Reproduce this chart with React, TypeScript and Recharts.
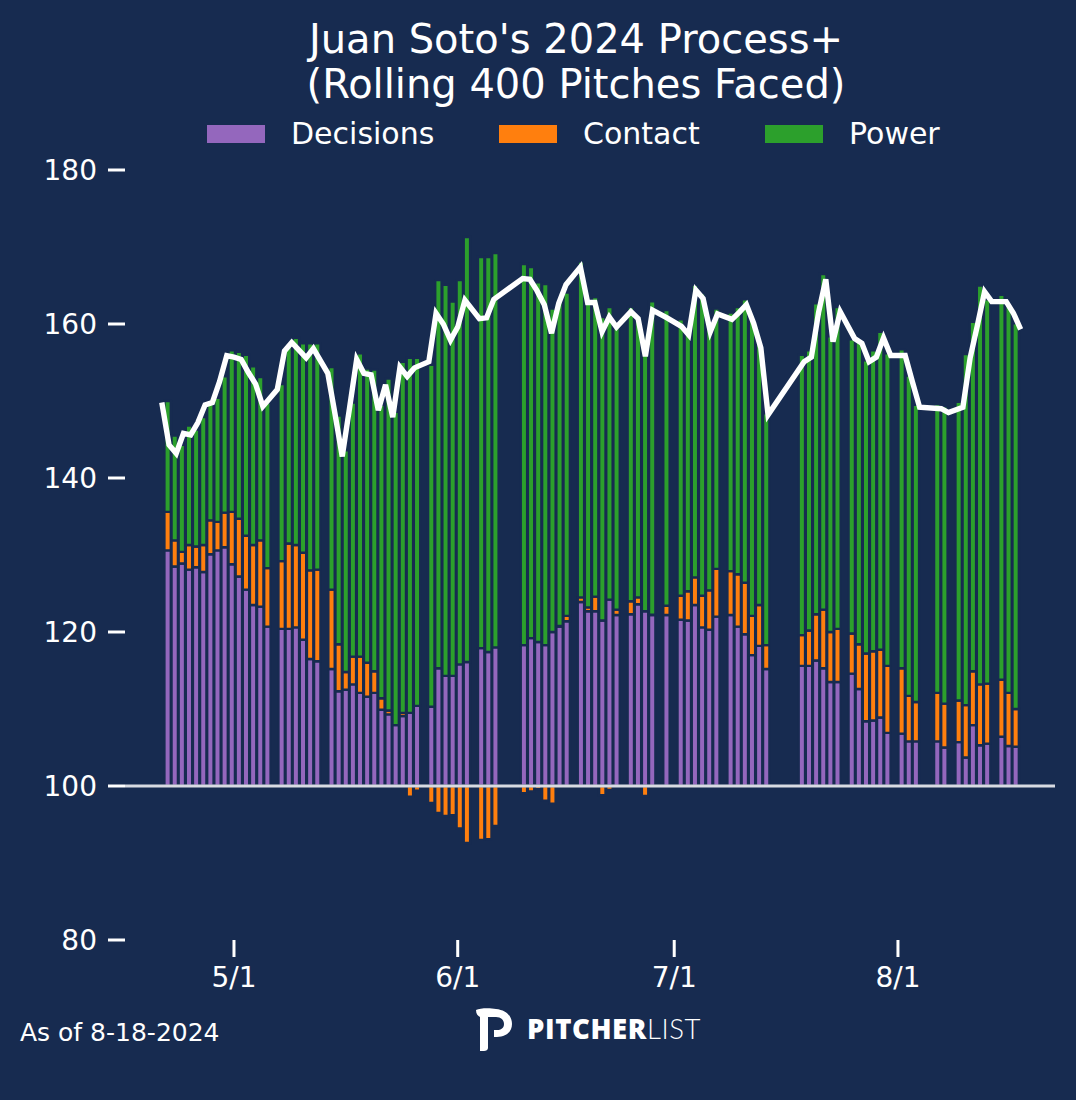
import React from 'react';
import { ComposedChart, Bar, Line, XAxis, YAxis, ReferenceLine } from 'recharts';

// game dates (2024), rolling 400 pitches faced
const gameDates = [
  '4/21', '4/22', '4/23', '4/24', '4/25', '4/26', '4/27', '4/28', '4/29', '4/30', '5/1', '5/2', '5/3', '5/4', '5/5',
  '5/7', '5/8', '5/9', '5/10', '5/11', '5/12',
  '5/14', '5/15', '5/16', '5/17', '5/18', '5/19', '5/20', '5/21', '5/22', '5/23', '5/24', '5/25', '5/26',
  '5/28', '5/29', '5/30', '5/31', '6/1', '6/2',
  '6/4', '6/5', '6/6',
  '6/10', '6/11', '6/12', '6/13', '6/14', '6/15', '6/16',
  '6/18', '6/19', '6/20', '6/21', '6/22', '6/23',
  '6/25', '6/26', '6/27', '6/28',
  '6/30',
  '7/2', '7/3', '7/4', '7/5', '7/6', '7/7',
  '7/9', '7/10', '7/11', '7/12', '7/13', '7/14',
  '7/19', '7/20', '7/21', '7/22', '7/23', '7/24',
  '7/26', '7/27', '7/28', '7/29', '7/30', '7/31',
  '8/2', '8/3', '8/4',
  '8/7', '8/8',
  '8/10', '8/11', '8/12', '8/13', '8/14',
  '8/16', '8/17', '8/18',
];

// contributions above / below 100
const decisions = [
  30.6, 28.5, 28.9, 28.1, 28.4, 27.8, 30.1, 30.6, 31.0, 28.8, 27.2, 25.5, 23.5, 23.3, 20.7,
  20.4, 20.4, 20.6, 19.0, 16.5, 16.2,
  15.2, 12.3, 12.5, 13.2, 12.1, 11.6, 12.1, 9.9, 9.3, 7.9, 9.1, 9.5, 10.4,
  10.3, 15.3, 14.3, 14.3, 15.8, 16.1,
  17.9, 17.4, 18.0,
  18.3, 19.2, 18.7, 18.3, 20.0, 20.7, 21.4,
  23.9, 22.7, 22.7, 21.5, 24.2, 22.2,
  22.3, 23.6, 22.7, 22.2,
  22.2,
  21.6, 21.5, 23.5, 20.6, 20.3, 22.0,
  22.2, 20.7, 19.7, 17.0, 18.2, 15.2,
  15.6, 15.6, 16.3, 15.3, 13.5, 13.5,
  14.6, 12.6, 8.4, 8.5, 8.9, 6.9,
  6.8, 5.8, 5.8,
  5.8, 5.0,
  5.7, 3.7, 7.9, 5.3, 5.5,
  6.4, 5.2, 5.1,
];

const contact = [
  5.0, 3.4, 1.5, 3.2, 2.7, 3.5, 4.4, 3.7, 4.5, 6.8, 7.5, 7.0, 7.8, 8.6, 7.6,
  8.8, 11.1, 10.7, 11.3, 11.5, 11.9,
  10.3, 6.1, 2.3, 3.6, 4.7, 4.4, 2.8, 1.5, 0.5, -0.3, 0.4, -1.4, -0.6,
  -2.2, -3.5, -3.9, -3.8, -5.5, -7.4,
  -7.0, -6.9, -5.2,
  -0.95, -0.7, -0.4, -1.9, -2.3, 0.1, 0.7,
  0.6, 0.5, 1.9, -1.2, -0.5, 0.7,
  1.7, 0.9, -1.3, 0.05,
  1.2,
  3.1, 3.8, 3.6, 4.1, 5.1, 6.2,
  5.7, 6.8, 6.7, 5.1, 5.3, 3.1,
  4.0, 4.6, 6.0, 7.6, 6.5, 6.9,
  5.2, 5.8, 8.8, 9.0, 8.8, 8.7,
  8.5, 5.9, 5.1,
  6.3, 5.7,
  5.4, 6.8, 7.0, 7.9, 7.8,
  7.4, 6.9, 4.9,
];

const power = [
  14.4, 13.6, 13.9, 15.5, 15.2, 16.6, 15.6, 16.1, 17.7, 21.0, 21.7, 23.5, 23.2, 21.2, 21.5,
  23.0, 26.0, 26.9, 27.2, 29.5, 29.4,
  28.9, 29.7, 28.8, 33.0, 39.4, 38.2, 39.2, 38.1, 43.1, 40.7, 45.6, 46.1, 45.2,
  44.4, 50.4, 50.8, 48.6, 49.9, 55.2,
  50.8, 51.3, 51.2,
  49.5, 48.2, 46.7, 46.9, 42.0, 42.2, 42.0,
  43.6, 39.7, 38.9, 39.4, 38.0, 36.7,
  38.2, 36.5, 33.3, 40.7,
  38.4,
  35.9, 34.2, 38.0, 39.3, 34.4, 33.8,
  33.6, 34.7, 36.8, 39.1, 34.0, 30.1,
  36.4, 36.4, 40.4, 43.6, 38.4, 41.8,
  38.2, 39.4, 38.1, 39.1, 41.3, 40.6,
  41.4, 41.6, 38.6,
  37.5, 38.6,
  38.8, 45.6, 45.4, 51.8, 49.9,
  50.0, 50.2, 50.1,
];

const processPlus = [
  149.8, 144.3, 143.2, 145.8, 145.6, 147.2, 149.5, 149.8, 152.5, 155.9, 155.7, 155.4, 153.7, 152.2, 149.3,
  151.5, 156.5, 157.6, 156.6, 155.6, 156.8,
  153.6, 148.3, 142.8, 149.0, 155.4, 153.6, 153.4, 148.8, 152.1, 147.9, 154.4, 153.2, 154.3,
  155.1, 161.4, 160.0, 157.9, 159.6, 163.1,
  160.7, 160.8, 163.2,
  165.9, 165.8, 164.3, 162.5, 158.8, 162.7, 165.1,
  167.4, 162.8, 162.8, 159.0, 160.9, 159.6,
  161.6, 160.7, 155.8, 161.8,
  160.8,
  159.7, 158.6, 164.4, 163.3, 159.0, 161.3,
  160.6, 161.5, 162.5, 160.1, 156.9, 148.2,
  155.1, 155.7, 161.5, 165.8, 157.7, 161.6,
  158.1, 157.5, 155.1, 155.7, 158.2, 155.9,
  155.9, 152.5, 149.2,
  149.0, 148.5,
  149.2, 155.6, 159.8, 164.2, 162.9,
  162.9, 161.4, 159.3,
];

const xTickDates = ['5/1', '6/1', '7/1', '8/1'];
const yTicks = [80, 100, 120, 140, 160, 180];

const BG = '#172b50';
const FONT = 'DejaVu Sans, sans-serif';

const dayOf = (s: string) => {
  const [m, d] = s.split('/').map(Number);
  return Math.round((Date.UTC(2024, m - 1, d) - Date.UTC(2024, 4, 1)) / 86400000);
};

const data = gameDates.map((s, i) => ({
  day: dayOf(s),
  decisions: decisions[i],
  contact: contact[i],
  power: power[i],
  process: processPlus[i] - 100,
}));

const xTicks = xTickDates.map(dayOf);

const legendItems = [
  { label: 'Decisions', color: '#9467bd', x: 207 },
  { label: 'Contact', color: '#ff7f0e', x: 499 },
  { label: 'Power', color: '#2ca02c', x: 765 },
];

export default function App() {
  return (
    <div style={{ position: 'absolute', left: 0, top: 0, width: 1076, height: 1100, background: BG, fontFamily: FONT, color: '#fff', overflow: 'hidden' }}>
      <div style={{ position: 'absolute', left: 0, top: 17, width: 1152, textAlign: 'center', fontSize: 40, lineHeight: '45px' }}>
        Juan Soto's 2024 Process+<br />(Rolling 400 Pitches Faced)
      </div>

      {legendItems.map((it) => (
        <div key={it.label} style={{ position: 'absolute', left: it.x, top: 116, height: 36, display: 'flex', alignItems: 'center' }}>
          <div style={{ width: 58, height: 18, background: it.color }} />
          <span style={{ marginLeft: 26, fontSize: 30, lineHeight: '36px' }}>{it.label}</span>
        </div>
      ))}

      <ComposedChart
        width={1076}
        height={1100}
        data={data}
        stackOffset="sign"
        margin={{ top: 170, right: 21, bottom: 100, left: 0 }}
      >
        <XAxis xAxisId="bars" dataKey="day" type="number" domain={[-16.03, 114.47]} allowDataOverflow hide height={0} />
        <XAxis
          xAxisId="dates"
          dataKey="day"
          type="number"
          domain={[-15.1, 113.76]}
          allowDataOverflow
          ticks={xTicks}
          tickFormatter={(v: number) => xTickDates[xTicks.indexOf(v)]}
          axisLine={false}
          tickLine={{ stroke: '#fff', strokeWidth: 3 }}
          tickSize={17}
          tickMargin={10}
          height={60}
          tick={{ fill: '#fff', fontSize: 28, fontFamily: FONT }}
        />
        <YAxis
          type="number"
          domain={[-20, 80]}
          ticks={yTicks.map((v) => v - 100)}
          tickFormatter={(v: number) => String(v + 100)}
          axisLine={false}
          tickLine={{ stroke: '#fff', strokeWidth: 3 }}
          tickSize={17}
          tickMargin={11}
          width={125}
          tick={{ fill: '#fff', fontSize: 28, fontFamily: FONT }}
        />
        <Bar xAxisId="bars" dataKey="decisions" stackId="p" fill="#9467bd" stroke={BG} strokeWidth={2.4} barSize={6.4} isAnimationActive={false} />
        <Bar xAxisId="bars" dataKey="contact" stackId="p" fill="#ff7f0e" stroke={BG} strokeWidth={2.4} barSize={6.4} isAnimationActive={false} />
        <Bar xAxisId="bars" dataKey="power" stackId="p" fill="#2ca02c" stroke={BG} strokeWidth={2.4} barSize={6.4} isAnimationActive={false} />
        <ReferenceLine xAxisId="dates" y={0} stroke="#d8dbe2" strokeWidth={3} />
        <Line xAxisId="dates" type="linear" dataKey="process" stroke="#fff" strokeWidth={5.4} dot={false} isAnimationActive={false} />
      </ComposedChart>

      <div style={{ position: 'absolute', left: 20, top: 1018, fontSize: 25, lineHeight: '30px' }}>As of 8-18-2024</div>

      <svg style={{ position: 'absolute', left: 470, top: 1004 }} width={50} height={50} viewBox="0 0 50 50">
        <path d="M6 6 C10 4 20 4 26 5 C36 6 42 12 42 20 C42 28 36 33 27 33 L24 33 L24 26 L27 26 C31 26 34 24 34 20 C34 16 31 13 26 13 L18 13 L18 44 C18 46 16 47 14 47 L10 47 L10 13 C8 12 6 10 6 6 Z" fill="#fff" />
      </svg>
      <div style={{ position: 'absolute', left: 527, top: 1011, fontSize: 27.5, lineHeight: '36px', letterSpacing: 0.6 }}>
        <span style={{ fontFamily: 'Open Sans, sans-serif', fontWeight: 800 }}>PITCHER</span>
        <span style={{ fontFamily: 'Lato, sans-serif', fontWeight: 300 }}>LIST</span>
      </div>
    </div>
  );
}
